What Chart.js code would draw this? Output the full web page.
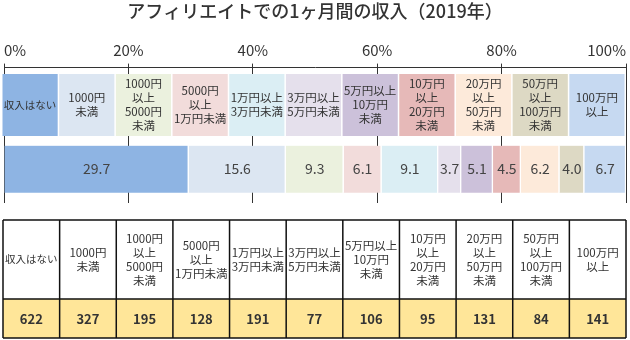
<!DOCTYPE html>
<html>
<head>
<meta charset="utf-8">
<script src="https://cdn.jsdelivr.net/npm/chart.js@4"></script>
<style>
  html, body { margin: 0; padding: 0; background: #fff; }
  #wrap { width: 630px; height: 340px; position: relative; }
</style>
</head>
<body>
<div id="wrap"><canvas id="c" width="630" height="340"></canvas></div>
<script>
const chartTitle = 'アフィリエイトでの1ヶ月間の収入（2019年）';
const categories = [
  '収入はない',
  '1000円\n未満',
  '1000円\n以上\n5000円\n未満',
  '5000円\n以上\n1万円未満',
  '1万円以上\n3万円未満',
  '3万円以上\n5万円未満',
  '5万円以上\n10万円\n未満',
  '10万円\n以上\n20万円\n未満',
  '20万円\n以上\n50万円\n未満',
  '50万円\n以上\n100万円\n未満',
  '100万円\n以上'
];
const percentages = [29.7, 15.6, 9.3, 6.1, 9.1, 3.7, 5.1, 4.5, 6.2, 4.0, 6.7];
const counts = [622, 327, 195, 128, 191, 77, 106, 95, 131, 84, 141];
const tickValues = [0, 20, 40, 60, 80, 100];
const colors = ['#8EB4E3', '#DCE6F2', '#EBF1DE', '#F2DCDB', '#DBEEF4', '#E5E0EC',
                '#CCC1DA', '#E6B9B8', '#FDEADA', '#DDD9C4', '#C6D9F1'];

const FONT = '"Noto Sans CJK JP", "Noto Sans", sans-serif';
const TEXT = '#333';

function drawLabel(ctx, label, cx, cy) {
  const lines = label.split('\n');
  const small = label === '収入はない';
  ctx.font = (small ? '10.5px ' : '11.5px ') + FONT;
  ctx.fillStyle = TEXT;
  ctx.textAlign = 'center';
  ctx.textBaseline = 'middle';
  const lh = 14;
  const y0 = cy - (lines.length - 1) * lh / 2;
  lines.forEach((ln, k) => ctx.fillText(ln, cx, y0 + k * lh));
}

const extras = {
  id: 'extras',
  beforeDatasetsDraw(chart) {
    const ctx = chart.ctx;
    const ca = chart.chartArea;
    const L = ca.left - 1.5, R = ca.right;
    const w = (R - L) / categories.length;
    ctx.save();
    categories.forEach((c, i) => {
      ctx.fillStyle = colors[i];
      ctx.fillRect(L + i * w, 74, w - 1.5, 62);
      drawLabel(ctx, c, L + i * w + (w - 1.5) / 2, 105);
    });
    ctx.restore();
  },
  afterDatasetsDraw(chart) {
    const ctx = chart.ctx;
    ctx.save();
    ctx.font = '14px ' + FONT;
    ctx.fillStyle = '#444';
    ctx.textAlign = 'center';
    ctx.textBaseline = 'middle';
    chart.data.datasets.forEach((ds, i) => {
      const el = chart.getDatasetMeta(i).data[1];
      if (!el) return;
      ctx.fillText(percentages[i].toFixed(1), (el.x + el.base) / 2, el.y);
    });
    ctx.restore();
  },
  afterDraw(chart) {
    const ctx = chart.ctx;
    const ca = chart.chartArea;
    const L = ca.left - 1, R = ca.right;
    const w = (R - L) / categories.length;
    const top = 220, mid = 299, bot = 338;
    ctx.save();
    ctx.fillStyle = '#FFE699';
    ctx.fillRect(L, mid, R - L, bot - mid);
    categories.forEach((c, i) => {
      const cx = L + i * w + w / 2;
      drawLabel(ctx, c, cx, (top + mid) / 2);
      ctx.font = 'bold 13px ' + FONT;
      ctx.fillStyle = TEXT;
      ctx.textAlign = 'center';
      ctx.textBaseline = 'middle';
      ctx.fillText(String(counts[i]), cx, (mid + bot) / 2 + 0.5);
    });
    ctx.strokeStyle = '#111';
    ctx.lineWidth = 1.5;
    ctx.beginPath();
    [top, mid, bot].forEach(y => { ctx.moveTo(L, y); ctx.lineTo(R, y); });
    for (let i = 0; i <= categories.length; i++) {
      const x = L + i * w;
      ctx.moveTo(x, top); ctx.lineTo(x, bot);
    }
    ctx.stroke();
    ctx.restore();
  }
};

const datasets = categories.map((c, i) => ({
  label: c.replace(/\n/g, ''),
  data: [null, percentages[i]],
  backgroundColor: colors[i],
  borderColor: '#ffffff',
  borderWidth: { top: 0, bottom: 0, left: 0, right: 1.5 },
  borderSkipped: false,
  barThickness: 47,
  stack: 's'
}));

new Chart(document.getElementById('c'), {
  type: 'bar',
  data: { labels: ['', '割合'], datasets },
  options: {
    indexAxis: 'y',
    responsive: false,
    animation: false,
    events: [],
    layout: { padding: { left: 2, right: 2, top: 0, bottom: 137 } },
    plugins: {
      legend: { display: false },
      tooltip: { enabled: false },
      title: {
        display: true,
        text: chartTitle,
        color: '#333',
        font: { family: FONT, size: 18, weight: '500' },
        padding: { top: 0, bottom: 16 }
      }
    },
    scales: {
      x: {
        type: 'linear',
        position: 'top',
        stacked: true,
        min: 0,
        max: 100,
        afterBuildTicks(scale) { scale.ticks = tickValues.map(v => ({ value: v })); },
        ticks: {
          align: 'inner',
          color: TEXT,
          padding: 4,
          font: { family: FONT, size: 15 },
          callback: v => v + '%'
        },
        grid: { color: '#333', lineWidth: 1, tickLength: 4, drawTicks: true },
        border: { display: true, color: '#333', width: 1 }
      },
      y: {
        type: 'category',
        stacked: true,
        display: false
      }
    }
  },
  plugins: [extras]
});
</script>
</body>
</html>
